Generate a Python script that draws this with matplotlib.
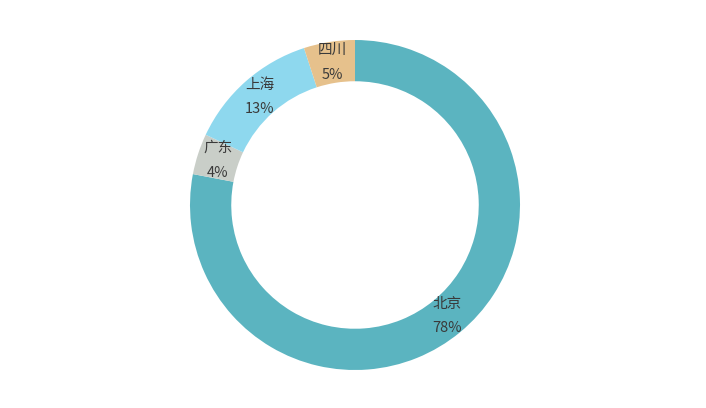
import matplotlib
matplotlib.use("Agg")
import matplotlib.pyplot as plt

plt.rcParams['font.family'] = ['Noto Sans CJK SC', 'DejaVu Sans']

categories = ['北京', '广东', '上海', '四川']
values = [78, 4, 13, 5]
colors = ['#5BB4C0', '#C9CEC8', '#8ED8EE', '#E6C18C']

W, H = 706, 408
fig = plt.figure(figsize=(W / 100, H / 100), dpi=100)
ax = fig.add_axes([0, 0, 1, 1])
cx, cy = 355, 205
R = 165
ax.set_xlim(-cx, W - cx)
ax.set_ylim(-(H - cy), cy)
ax.set_aspect('equal')
ax.axis('off')

total = sum(values)
labels = [f"{c}\n{round(v / total * 100)}%" for c, v in zip(categories, values)]
ax.pie(values, colors=colors, startangle=90, counterclock=False, radius=R,
       labels=labels, labeldistance=(1 - 0.25 / 2),
       wedgeprops=dict(width=R * 0.25, linewidth=0),
       textprops=dict(color='#3A3A3A', fontsize=10.5, ha='center', va='center',
                      linespacing=1.95))
ax.set_xlim(-cx, W - cx)
ax.set_ylim(-(H - cy), cy)

fig.savefig('out.png', dpi=100)
